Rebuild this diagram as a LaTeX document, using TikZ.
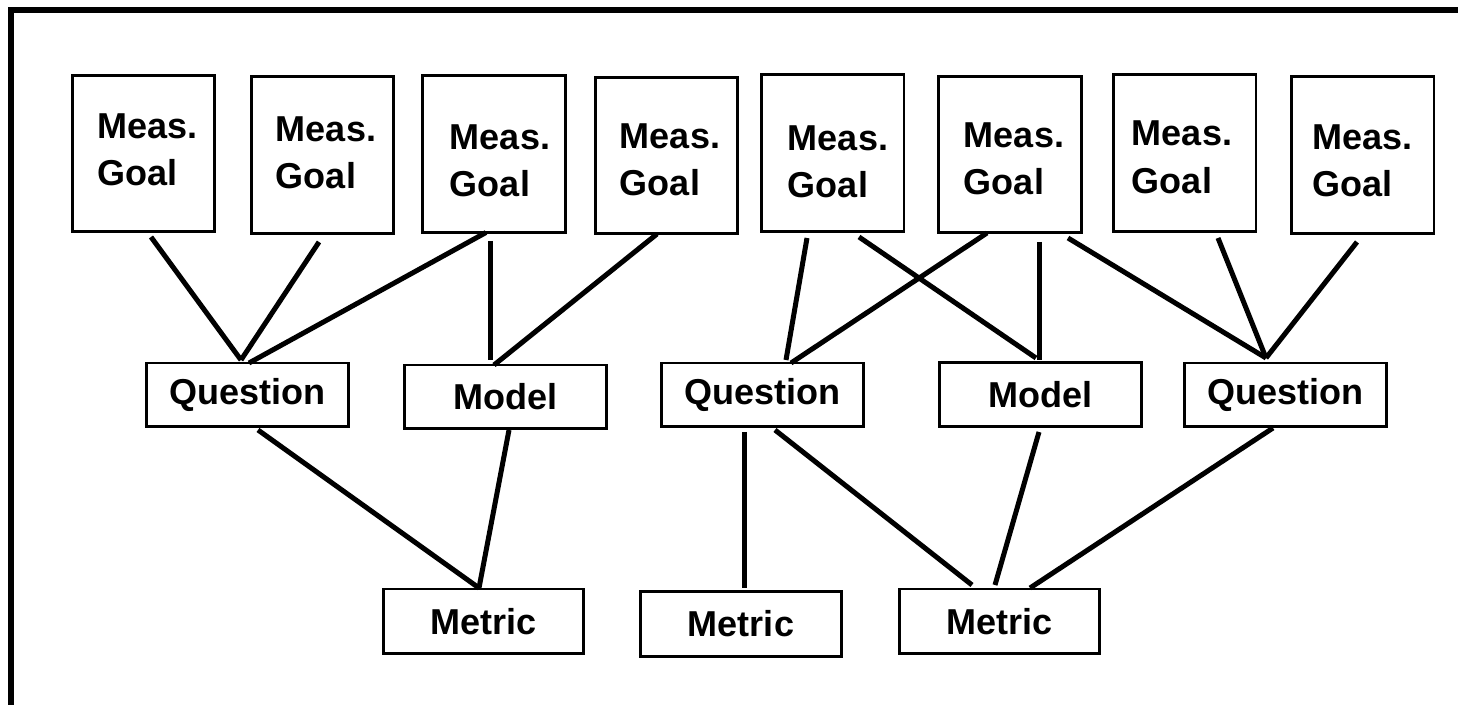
\documentclass[tikz,border=0pt]{standalone}
\usepackage{fontspec}
\setmainfont{Liberation Sans}
\usetikzlibrary{calc}
\definecolor{FrameClr}{rgb}{0,0,0}

\tikzset{
  goalbox/.style={draw,line width=1.7pt,minimum width=2.86cm,minimum height=3.14cm,
    inner sep=0pt,outer sep=0pt},
  goaltext/.style={inner sep=0pt,align=left,font=\bfseries\fontsize{20.5}{27}\selectfont},
  midbox/.style={draw,line width=1.7pt,minimum width=4.06cm,minimum height=1.28cm,
    inner sep=0pt,outer sep=0pt,font=\bfseries\fontsize{20.5}{24}\selectfont},
  metricbox/.style={midbox,minimum width=4.02cm,minimum height=1.3cm},
  link/.style={line width=2.85pt}
}

\begin{document}
\begin{tikzpicture}[x=0.02cm,y=-0.02cm]
\useasboundingbox (0,0) rectangle (1458,705);
\draw[line width=3.4pt,color=FrameClr] (11,706) -- (11,10) -- (1460,10);

% measurement goals
\foreach \n/\x/\y/\dx/\dy in {1/143.5/153.5/4/-3.5,2/322.5/155/3.5/-2,3/494/154/6/7,
      4/666.5/155.5/3.5/4.5,5/832.5/153/5.5/9,6/1010/154.5/4/4.5,
      7/1184.5/153/-2.5/4.5,8/1362.5/155/0/6}{
  \node[goalbox] (g\n) at (\x,\y) {};
  \node[goaltext] (gt\n) at ($(g\n)+(\dx,\dy)$) {Meas.\\Goal};
}

% questions and models
\node[midbox] (q1) at (247.5,395) {Question};
\node[midbox] (m1) at (505.5,397) {Model};
\node[midbox] (q2) at (762.5,395) {Question};
\node[midbox] (m2) at (1040.5,394.5) {Model};
\node[midbox] (q3) at (1285.5,395) {Question};

% metrics
\node[metricbox] (t1) at (483.5,621.5) {Metric};
\node[metricbox] (t2) at (741,624) {Metric};
\node[metricbox] (t3) at (999.5,621.5) {Metric};

% goals to questions / models
\draw[link] ($(g1.south)+(7.5,5)$) -- ($(q1.north)+(-6.5,-3)$);
\draw[link] ($(g2.south)+(-3.5,8.5)$) -- ($(q1.north)+(-6.5,-3)$);
\draw[link] ($(g3.south)+(-8,0)$) -- ($(q1.north)+(1.5,0)$);
\draw[link] ($(g3.south)+(-4,8.5)$) -- ($(m1.north)+(-15.5,-5)$);
\draw[link] ($(g4.south)+(-9.5,0)$) -- ($(m1.north)+(-11.5,0)$);
\draw[link] ($(g5.south)+(-25.5,6.5)$) -- ($(q2.north)+(23.5,-3)$);
\draw[link] ($(g5.south)+(26.5,5.5)$) -- ($(m2.north)+(-4.5,-4.5)$);
\draw[link] ($(g6.south)+(-23,0)$) -- ($(q2.north)+(28.5,0)$);
\draw[link] ($(g6.south)+(29,9)$) -- ($(m2.north)+(-1.5,-2.5)$);
\draw[link] ($(g6.south)+(58,5)$) -- ($(q3.north)+(-19.5,-5)$);
\draw[link] ($(g7.south)+(33.5,6.5)$) -- ($(q3.north)+(-19.5,-5)$);
\draw[link] ($(g8.south)+(-5.5,8.5)$) -- ($(q3.north)+(-19.5,-5)$);

% questions / models to metrics
\draw[link] ($(q1.south)+(10.5,3)$) -- ($(t1.north)+(-4.5,-1)$);
\draw[link] ($(m1.south)+(3.5,1)$) -- ($(t1.north)+(-4.5,-1)$);
\draw[link] ($(q2.south)+(-18.5,5)$) -- ($(t2.north)+(3,-3.5)$);
\draw[link] ($(q2.south)+(12.5,3)$) -- ($(t3.north)+(-27.5,-4)$);
\draw[link] ($(m2.south)+(-1.5,5.5)$) -- ($(t3.north)+(-4.5,-4)$);
\draw[link] ($(q3.south)+(-12.5,1)$) -- ($(t3.north)+(30.5,-1)$);

\end{tikzpicture}
\end{document}
